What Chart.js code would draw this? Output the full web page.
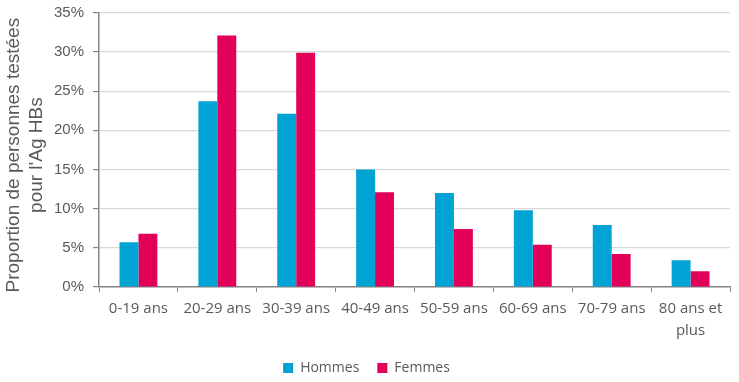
<!DOCTYPE html>
<html>
<head>
<meta charset="utf-8">
<script src="https://cdn.jsdelivr.net/npm/chart.js@4/dist/chart.umd.min.js"></script>
<style>
  html, body { margin: 0; padding: 0; background: #fff; }
  #wrap { width: 739px; height: 382px; position: relative; }
</style>
</head>
<body>
<div id="wrap"><canvas id="c"></canvas></div>
<script>
const categories = ["0-19 ans", "20-29 ans", "30-39 ans", "40-49 ans", "50-59 ans", "60-69 ans", "70-79 ans", ["80 ans et", "plus"]];
const hommes = [5.7, 23.7, 22.1, 15.0, 12.0, 9.8, 7.9, 3.4];
const femmes = [6.8, 32.1, 29.9, 12.1, 7.4, 5.4, 4.2, 2.0];
const yTicks = [0, 5, 10, 15, 20, 25, 30, 35];
const seriesNames = ["Hommes", "Femmes"];
const yTitle = ["Proportion de personnes testées", "pour l'Ag HBs"];

const HUMAN = "'Open Sans', 'Liberation Sans', sans-serif";
const SANS = "'Liberation Sans', Arial, sans-serif";
const TXT = "#595959";

const legendPlace = {
  id: 'legendPlace',
  afterLayout(chart) {
    const lg = chart.legend;
    if (!lg) return;
    const dy = 343 - lg.top;
    lg.top += dy; lg.bottom += dy;
  }
};

new Chart(document.getElementById('c'), {
  type: 'bar',
  data: {
    labels: categories,
    datasets: [
      { label: seriesNames[0], data: hommes, backgroundColor: '#00A3D4', categoryPercentage: 0.48, barPercentage: 1.0 },
      { label: seriesNames[1], data: femmes, backgroundColor: '#E30059', categoryPercentage: 0.48, barPercentage: 1.0 }
    ]
  },
  plugins: [legendPlace],
  options: {
    responsive: true,
    maintainAspectRatio: false,
    animation: false,
    layout: { padding: { top: 11, right: 9, left: 3, bottom: 0 } },
    plugins: {
      tooltip: { enabled: false },
      legend: {
        position: 'bottom',
        labels: {
          boxWidth: 10, boxHeight: 10, padding: 18,
          color: TXT,
          font: { family: HUMAN, size: 14 }
        }
      }
    },
    scales: {
      x: {
        grid: { display: true, drawOnChartArea: false, offset: true, color: '#868686', tickLength: 5 },
        border: { color: '#868686', width: 1.5 },
        ticks: { color: TXT, font: { family: HUMAN, size: 15, lineHeight: 1.47 }, maxRotation: 0, autoSkip: false, padding: 6 },
        afterFit: (s) => { s.height = 53; }
      },
      y: {
        min: 0, max: 35,
        afterBuildTicks: (s) => { s.ticks = yTicks.map(v => ({ value: v })); },
        grid: { color: '#d9d9d9', lineWidth: 1.2, tickLength: 6, tickColor: '#868686' },
        border: { color: '#868686', width: 1.5 },
        ticks: { color: TXT, font: { family: SANS, size: 15, lineHeight: 0.5 }, padding: 9, callback: (v) => v + '%' },
        title: { display: true, text: yTitle.map(t => t + '  '), color: TXT, font: { family: SANS, size: 19, lineHeight: 1.18 }, padding: { top: 0, bottom: 2 } },
        afterFit: (s) => { s.width = 96; }
      }
    }
  }
});
</script>
</body>
</html>
